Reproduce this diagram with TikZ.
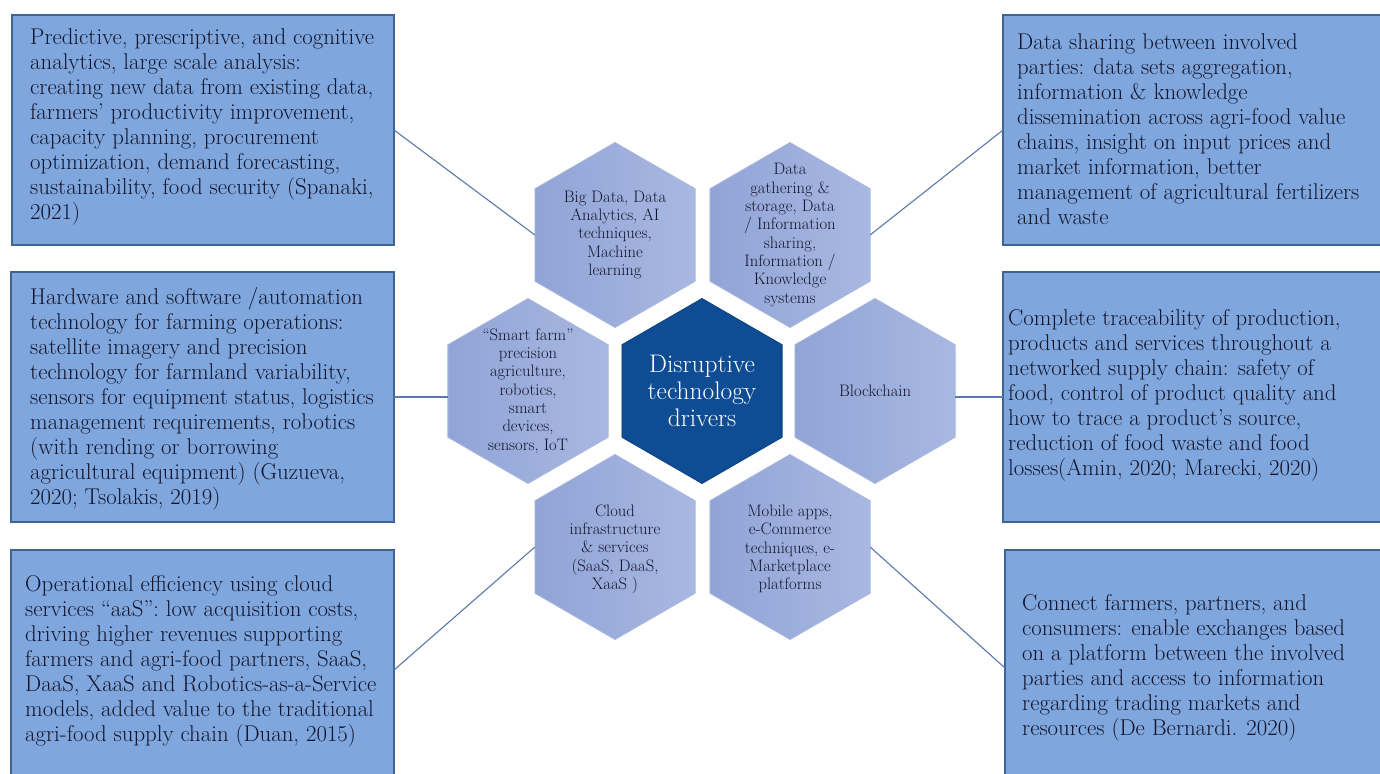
\documentclass[tikz,border=0pt]{standalone}
\usepackage{fontspec}
\usetikzlibrary{shapes.geometric}
\definecolor{boxfill}{RGB}{127,167,221}
\definecolor{boxdraw}{RGB}{62,100,150}
\definecolor{txt}{RGB}{18,20,44}
\definecolor{hexL}{RGB}{145,164,214}
\definecolor{hexR}{RGB}{168,184,226}
\definecolor{hexdraw}{RGB}{170,184,222}
\definecolor{core}{RGB}{14,76,148}
\definecolor{wirec}{RGB}{90,120,170}
\tikzset{
  box/.style={draw=boxdraw, line width=1.3pt, fill=boxfill, inner sep=0pt, outer sep=0pt},
  boxtext/.style={anchor=west, align=left, text=txt, inner sep=0pt,
    font=\fontsize{22.8}{25}\selectfont\addfontfeature{FakeBold=1.2}},
  hexa/.style={regular polygon, regular polygon sides=6, shape border rotate=30, minimum size=185pt,
    inner sep=0pt, outer sep=0pt, left color=hexL, right color=hexR, draw=hexdraw, line width=0.8pt},
  corehex/.style={regular polygon, regular polygon sides=6, shape border rotate=30, minimum size=185pt,
    inner sep=0pt, outer sep=0pt, fill=core, draw=core!85!black, line width=0.8pt},
  hextext/.style={align=center, text=txt, inner sep=0pt,
    font=\fontsize{16.6}{18.3}\selectfont\addfontfeature{FakeBold=1}},
  coretext/.style={align=center, text=white, inner sep=0pt,
    font=\fontsize{25.4}{27}\selectfont\addfontfeature{FakeBold=0.5}},
  wire/.style={draw=wirec, line width=1.1pt}
}
\begin{document}
\begin{tikzpicture}[x=1pt,y=-1pt]
\useasboundingbox[fill=white] (0,0) rectangle (1380,773);

% boxes
\node[box, minimum width=382pt, minimum height=230pt] (b1) at (203,130) {};
\node[box, minimum width=383pt, minimum height=250pt] (b2) at (202.5,397) {};
\node[box, minimum width=383pt, minimum height=240pt] (b3) at (202.5,670) {};
\node[box, minimum width=382pt, minimum height=230pt] (b4) at (1194,130) {};
\node[box, minimum width=382pt, minimum height=250pt] (b5) at (1194,397) {};
\node[box, minimum width=380pt, minimum height=236pt] (b6) at (1195,668) {};

\node[boxtext] (t1) at (30,127) {Predictive, prescriptive, and cognitive\\
analytics, large scale analysis:\\
creating new data from existing data,\\
farmers’ productivity improvement,\\
capacity planning, procurement\\
optimization, demand forecasting,\\
sustainability, food security (Spanaki,\\
2021)};
\node[boxtext] (t2) at (30,399) {Hardware and software /automation\\
technology for farming operations:\\
satellite imagery and precision\\
technology for farmland variability,\\
sensors for equipment status, logistics\\
management requirements, robotics\\
(with rending or borrowing\\
agricultural equipment) (Guzueva,\\
2020; Tsolakis, 2019)};
\node[boxtext] (t3) at (25,661) {Operational efficiency using cloud\\
services “aaS”: low acquisition costs,\\
driving higher revenues supporting\\
farmers and agri-food partners, SaaS,\\
DaaS, XaaS and Robotics-as-a-Service\\
models, added value to the traditional\\
agri-food supply chain (Duan, 2015)};
\node[boxtext] (t4) at (1017,129) {Data sharing between involved\\
parties: data sets aggregation,\\
information \& knowledge\\
dissemination across agri-food value\\
chains, insight on input prices and\\
market information, better\\
management of agricultural fertilizers\\
and waste};
\node[boxtext] (t5) at (1008,395) {Complete traceability of production,\\
products and services throughout a\\
networked supply chain: safety of\\
food, control of product quality and\\
how to trace a product’s source,\\
reduction of food waste and food\\
losses(Amin, 2020; Marecki, 2020)};
\node[boxtext] (t6) at (1022,668) {Connect farmers, partners, and\\
consumers: enable exchanges based\\
on a platform between the involved\\
parties and access to information\\
regarding trading markets and\\
resources (De Bernardi. 2020)};

% hexagons
\node[corehex] (hc) at (702,391) {};
\node[hexa] (h1) at (615,235) {};
\node[hexa] (h2) at (790,235) {};
\node[hexa] (h3) at (528,391) {};
\node[hexa] (h4) at (875,391) {};
\node[hexa] (h5) at (615,547) {};
\node[hexa] (h6) at (790,547) {};

\node[coretext] (lc) at (hc) {Disruptive\\technology\\drivers};
\node[hextext] (l1) at (h1) {Big Data, Data\\Analytics, AI\\techniques,\\Machine\\learning};
\node[hextext] (l2) at (h2) {Data\\gathering \&\\storage, Data\\/ Information\\sharing,\\Information /\\Knowledge\\systems};
\node[hextext] (l3) at (h3) {“Smart farm”\\precision\\agriculture,\\robotics,\\smart\\devices,\\sensors, IoT};
\node[hextext] (l4) at (h4) {Blockchain};
\node[hextext] (l5) at ([yshift=-2pt]h5) {Cloud\\infrastructure\\\& services\\(SaaS, DaaS,\\XaaS )};
\node[hextext] (l6) at ([yshift=-2pt]h6) {Mobile apps,\\e-Commerce\\techniques, e-\\Marketplace\\platforms};

% connectors
\draw[wire] (b1.east) -- (h1.west);
\draw[wire] (b2.east) -- (b2.east -| h3.west);
\draw[wire] (b3.east) -- (h5.west);
\draw[wire] (b4.west) -- (h2.east);
\draw[wire] (b5.west) -- (b5.west -| h4.east);
\draw[wire] (b6.west) -- (h6.east);
\end{tikzpicture}
\end{document}
